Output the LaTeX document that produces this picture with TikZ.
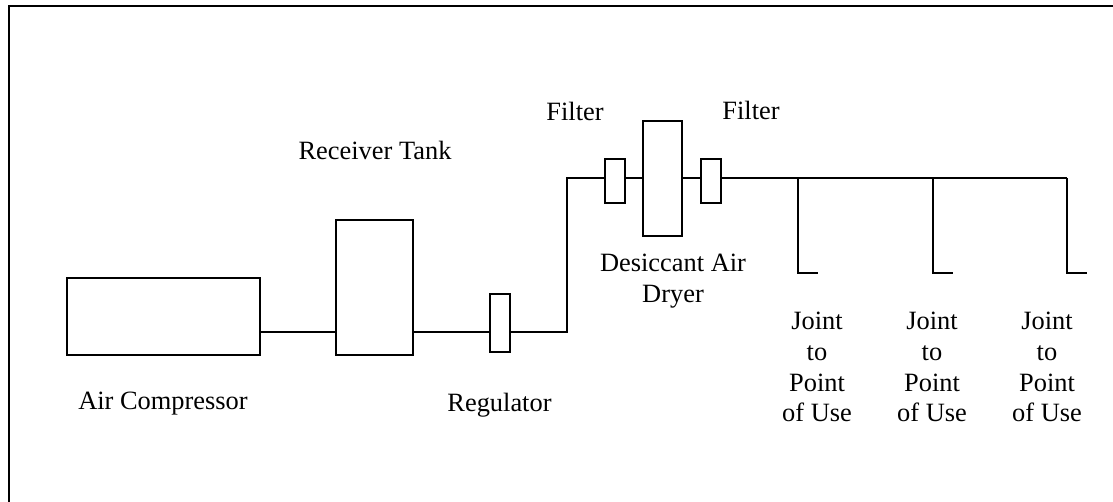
\documentclass[tikz,border=0pt]{standalone}
\usepackage{fontspec}
\setmainfont{Liberation Serif}
\usepackage{tikz}
\tikzset{
  part/.style={draw,line width=1.8pt,minimum width=#1,inner sep=0pt},
  pipe/.style={line width=1.8pt},
  caption/.style={font=\fontsize{26.4}{30.8}\selectfont,align=center,inner sep=0pt}
}
\begin{document}
\begin{tikzpicture}[x=1pt,y=-1pt]
  \useasboundingbox (0,0) rectangle (1113,502);
  \draw[line width=1.8pt] (9,502) |- (1113,6);
  % equipment
  \node[part=193pt,minimum height=77pt] (compressor) at (163.5,316.5) {};
  \node[part=77pt,minimum height=135pt] (tank) at (374.5,287.5) {};
  \node[part=20pt,minimum height=58pt] (regulator) at (500,323) {};
  \node[part=20pt,minimum height=44pt] (filterA) at (615,181) {};
  \node[part=39pt,minimum height=115pt] (dryer) at (662.5,178.5) {};
  \node[part=20pt,minimum height=44pt] (filterB) at (711,181) {};
  % line
  \coordinate (bendA) at (567,332);
  \coordinate (bendB) at (567,178);
  \coordinate (jointA) at (798,178);
  \coordinate (jointB) at (933,178);
  \coordinate (jointC) at (1067,178);
  \draw[pipe] (compressor.east |- bendA) -- (tank.west |- bendA);
  \draw[pipe] (tank.east |- bendA) -- (regulator.west |- bendA);
  \draw[pipe] (regulator.east |- bendA) -- (bendA) -- (bendB) -- (filterA.west |- bendB);
  \draw[pipe] (filterA.east |- bendB) -- (dryer.west |- bendB);
  \draw[pipe] (dryer.east |- bendB) -- (filterB.west |- bendB);
  \draw[pipe] (filterB.east |- bendB) -- (jointC);
  \foreach \j in {jointA,jointB,jointC}
    \draw[pipe] (\j) -- ++(0,95) -- ++(20,0);
  % labels
  \node[caption] (compressorLabel) at (163,404) {Air Compressor};
  \node[caption] (tankLabel) at (375,150) {Receiver Tank};
  \node[caption] (regulatorLabel) at (499.5,405) {Regulator};
  \node[caption] (filterLabelA) at (575,111) {Filter};
  \node[caption] (filterLabelB) at (751,110) {Filter};
  \node[caption] (dryerLabel) at (673,281) {Desiccant Air\\Dryer};
  \node[caption] (useLabelA) at (817,367) {Joint\\to\\Point\\of Use};
  \node[caption] (useLabelB) at (932,367) {Joint\\to\\Point\\of Use};
  \node[caption] (useLabelC) at (1047,367) {Joint\\to\\Point\\of Use};
\end{tikzpicture}
\end{document}
